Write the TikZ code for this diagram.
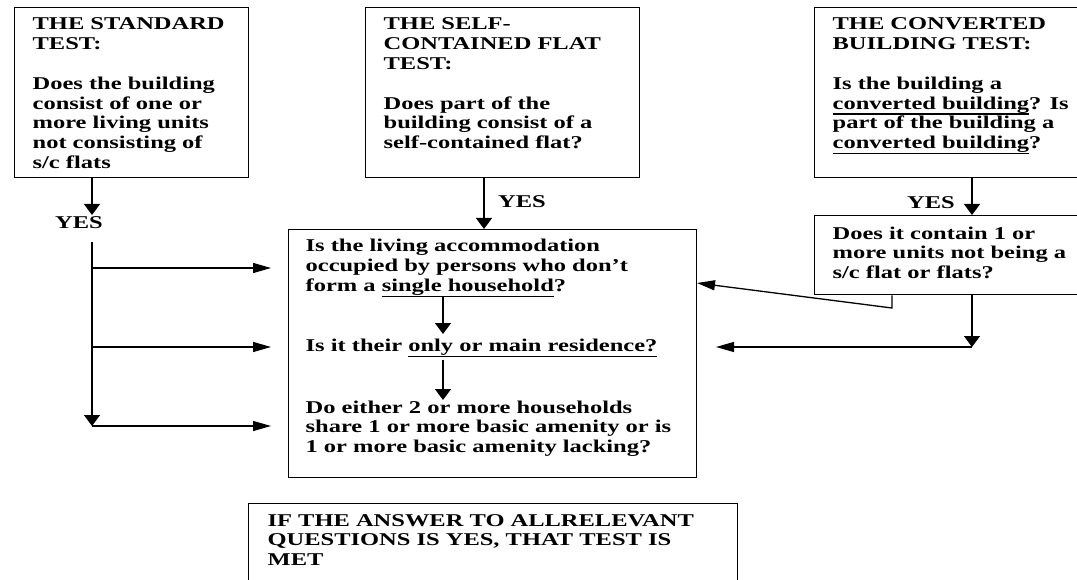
\documentclass[tikz,border=0pt]{standalone}
\usepackage{fontspec}
\setmainfont{Liberation Serif}[FakeStretch=1.36]
\usetikzlibrary{arrows.meta}
\newcommand\ulx[1]{\setbox0\hbox{#1}\rlap{\rule[-5.5pt]{\wd0}{1.3pt}}\box0}
\tikzset{
  box/.style={draw, line width=1.3pt, inner sep=0pt, anchor=north west},
  txt/.style={anchor=base west, inner sep=0pt, align=left},
  lbl/.style={inner sep=0pt},
  varr/.style={-{Triangle[width=16pt,length=11pt]}},
  harr/.style={-{Triangle[width=10pt,length=18pt]}}
}
\begin{document}
\begin{tikzpicture}[x=1pt,y=-1pt,line width=1.3pt,
  font=\fontsize{18}{19.8}\selectfont\bfseries]
\fill[white] (0,0) rectangle (1077,580);
\useasboundingbox (0,0) rectangle (1077,580);

% boxes
\node[box, minimum width=234pt, minimum height=170pt] (std) at (14,7) {};
\node[box, minimum width=274pt, minimum height=170pt] (sc) at (365,7) {};
\node[box, minimum width=264pt, minimum height=170pt] (cb) at (814,7) {};
\node[box, minimum width=264pt, minimum height=79pt] (unit) at (814,215) {};
\node[box, minimum width=408pt, minimum height=248pt] (main) at (288,229) {};
\node[box, minimum width=489pt, minimum height=85pt] (fin) at (248,503) {};

% texts (anchored at the baseline of their last line)
\node[txt] (t1) at (32,168.6) {THE STANDARD\\TEST:\\[19.8pt]Does the building\\consist of one or\\more living units\\not consisting of\\s/c flats};
\node[txt] (t2) at (383,148.8) {THE SELF-\\CONTAINED FLAT\\TEST:\\[19.8pt]Does part of the\\building consist of a\\self-contained flat?};
\node[txt] (t3) at (832,148.8) {THE CONVERTED\\BUILDING TEST:\\[19.8pt]Is the building a\\\ulx{converted building}? Is\\part of the building a\\\ulx{converted building}?};
\node[txt] (t4) at (832,278.6) {Does it contain 1 or\\more units not being a\\s/c flat or flats?};
\node[txt] (q1) at (305,291.6) {Is the living accommodation\\occupied by persons who don’t\\form a \ulx{single household}?};
\node[txt] (q2) at (305,352) {Is it their \ulx{only or main residence?}};
\node[txt] (q3) at (305,452.6) {Do either 2 or more households\\share 1 or more basic amenity or is\\1 or more basic amenity lacking?};
\node[txt] (t5) at (267,565.6) {IF THE ANSWER TO ALLRELEVANT\\QUESTIONS IS YES, THAT TEST IS\\MET};

% YES labels
\node[lbl] (yes1) at (79,223) {YES};
\node[lbl] (yes2) at (522,202) {YES};
\node[lbl] (yes3) at (931,203) {YES};

% coordinates
\coordinate (c1) at (92,215);
\coordinate (l0) at (92,242);
\coordinate (l3) at (92,426);
\coordinate (h1) at (271,268);
\coordinate (h2) at (271,347);
\coordinate (h3) at (271,426);
\coordinate (c2) at (484,0);
\coordinate (c3) at (972,0);
\coordinate (k1) at (892,308);
\coordinate (m1) at (697,283);
\coordinate (k2) at (972,347);
\coordinate (m2) at (716,347);
\coordinate (a1) at (443,296);
\coordinate (a1e) at (443,334);
\coordinate (a2) at (443,360);
\coordinate (a2e) at (443,400);

% connectors
\draw[varr] (std.south -| c1) -- (c1);
\draw[varr] (l0) -- (l3);
\draw[harr] (h1 -| l0) -- (h1);
\draw[harr] (h2 -| l0) -- (h2);
\draw[harr] (h3 -| l0) -- (h3);
\draw[varr] (sc.south -| c2) -- (main.north -| c2);
\draw[varr] (cb.south -| c3) -- (unit.north -| c3);
\draw[harr] (unit.south -| k1) -- (k1) -- (m1);
\draw[varr] (unit.south -| k2) -- (k2);
\draw[harr] (k2) -- (m2);
\draw[varr] (a1) -- (a1e);
\draw[varr] (a2) -- (a2e);
\end{tikzpicture}
\end{document}
